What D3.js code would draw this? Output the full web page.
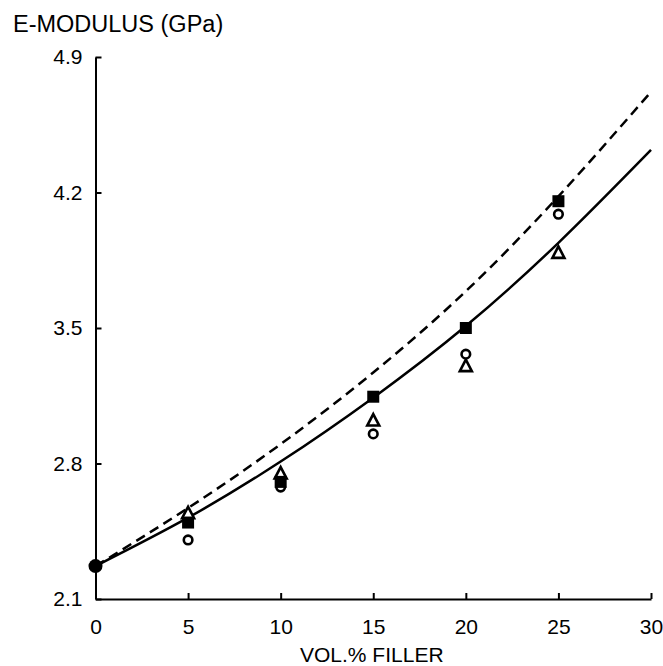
<!DOCTYPE html>
<html lang="en">
<head>
  <meta charset="UTF-8">
  <title>E-modulus vs filler</title>
  <script src="https://d3js.org/d3.v7.min.js"></script>
  <style>
    body { margin: 0; background: #fff; }
    text { font-family: "Liberation Sans", Arial, sans-serif; fill: #000; }
  </style>
</head>
<body>
  <div id="my_dataviz"></div>
  <script>

    // values
    var xTicks = [0, 5, 10, 15, 20, 25, 30];
    var yTicks = [2.1, 2.8, 3.5, 4.2, 4.9];

    // model curves (sampled every 5 vol.%)
    var curveX = [0, 5, 10, 15, 20, 25, 30];
    var solidY = [2.27, 2.52, 2.81, 3.14, 3.51, 3.94, 4.42];
    var dashedY = [2.27, 2.57, 2.90, 3.27, 3.69, 4.18, 4.72];

    // measured points
    var matrixX = [0], matrixY = [2.27];
    var pointX = [5, 10, 15, 20, 25];
    var squareY = [2.495, 2.705, 3.145, 3.50, 4.155];
    var circleY = [2.405, 2.678, 2.953, 3.365, 4.088];
    var triangleY = [2.543, 2.748, 3.022, 3.303, 3.888];

    var margin = { top: 57, right: 12, bottom: 67, left: 95.5 };

    var svg = d3.select("#my_dataviz")
      .append("svg")
      .attr("width", 663)
      .attr("height", 666)
      .append("g")
      .attr("transform", "translate(" + margin.left + "," + margin.top + ")");

    var x = d3.scaleLinear().domain([0, 30]).range([0, 555.5]);
    var y = d3.scaleLinear().domain([2.1, 4.9]).range([542, 0]);

    // axes, ticks pointing inwards
    var xAxis = svg.append("g")
      .attr("transform", "translate(0," + y(2.1) + ")")
      .call(d3.axisBottom(x).tickValues(xTicks).tickSizeInner(-6).tickSizeOuter(0).tickPadding(16).tickFormat(d3.format("d")));
    var yAxis = svg.append("g")
      .call(d3.axisLeft(y).tickValues(yTicks).tickSizeInner(-6).tickSizeOuter(0).tickPadding(13).tickFormat(d3.format(".1f")));

    [xAxis, yAxis].forEach(function (a) {
      a.select(".domain").attr("stroke", "#000").attr("stroke-width", 2);
      a.selectAll(".tick line").attr("stroke", "#000").attr("stroke-width", 2);
      a.selectAll(".tick text").style("font-size", "21px").attr("fill", "#000");
    });
    xAxis.selectAll(".tick text").attr("dy", "0.9em");

    // curves
    var line = d3.line()
      .x(function (d) { return x(d[0]); })
      .y(function (d) { return y(d[1]); })
      .curve(d3.curveNatural);

    svg.append("path")
      .datum(d3.zip(curveX, dashedY))
      .attr("d", line)
      .attr("fill", "none")
      .attr("stroke", "#000")
      .attr("stroke-width", 2.5)
      .attr("stroke-dasharray", "10,6");

    svg.append("path")
      .datum(d3.zip(curveX, solidY))
      .attr("d", line)
      .attr("fill", "none")
      .attr("stroke", "#000")
      .attr("stroke-width", 2.5);

    // markers
    svg.selectAll(".tri")
      .data(d3.zip(pointX, triangleY))
      .enter().append("path")
      .attr("transform", function (d) { return "translate(" + x(d[0]) + "," + y(d[1]) + ")"; })
      .attr("d", "M0,-6.5L6,5L-6,5Z")
      .attr("fill", "#fff")
      .attr("stroke", "#000")
      .attr("stroke-width", 2.6);

    svg.selectAll(".circ")
      .data(d3.zip(pointX, circleY))
      .enter().append("circle")
      .attr("cx", function (d) { return x(d[0]); })
      .attr("cy", function (d) { return y(d[1]); })
      .attr("r", 4.3)
      .attr("fill", "#fff")
      .attr("stroke", "#000")
      .attr("stroke-width", 2.6);

    svg.selectAll(".sq")
      .data(d3.zip(pointX, squareY))
      .enter().append("rect")
      .attr("x", function (d) { return x(d[0]) - 6; })
      .attr("y", function (d) { return y(d[1]) - 6; })
      .attr("width", 12)
      .attr("height", 12)
      .attr("fill", "#000");

    svg.selectAll(".dot")
      .data(d3.zip(matrixX, matrixY))
      .enter().append("circle")
      .attr("cx", function (d) { return x(d[0]); })
      .attr("cy", function (d) { return y(d[1]); })
      .attr("r", 7)
      .attr("fill", "#000");

    // axis titles
    svg.append("text")
      .attr("x", 13 - margin.left)
      .attr("y", 32 - margin.top)
      .style("font-size", "23.5px")
      .text("E-MODULUS (GPa)");

    svg.append("text")
      .attr("x", 300 - margin.left)
      .attr("y", 662 - margin.top)
      .style("font-size", "21px")
      .text("VOL.% FILLER");

  </script>
</body>
</html>
